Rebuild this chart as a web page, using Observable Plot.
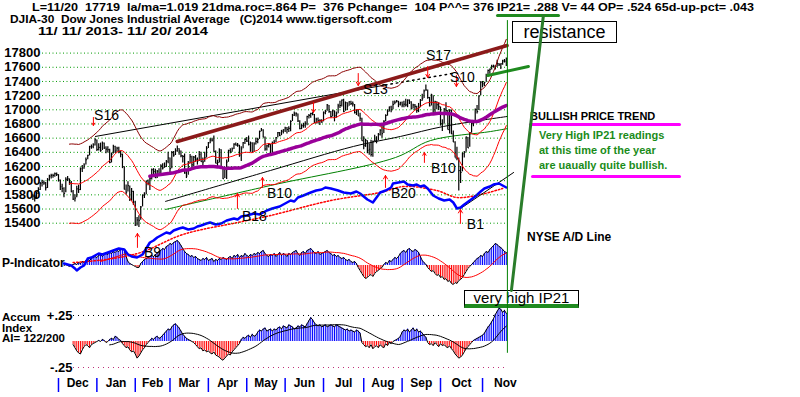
<!DOCTYPE html>
<html><head><meta charset="utf-8">
<script src="https://cdn.jsdelivr.net/npm/d3@7"></script>
<script src="https://cdn.jsdelivr.net/npm/@observablehq/plot@0.6"></script>
<style>
body{margin:0;background:#fff;}
#wrap{position:relative;width:800px;height:397px;overflow:hidden;font-family:"Liberation Sans",Arial,sans-serif;background:#fff;}
.t{position:absolute;white-space:pre;font-weight:bold;color:#000;font-size:12px;line-height:13px;}
.h{font-size:10.5px;line-height:11px;transform-origin:0 50%;}
.s{font-size:11.5px;line-height:10px;}
.g{color:#1a8c1a;font-size:11px;}
.bar{position:absolute;border-radius:2px;}
.box{position:absolute;box-sizing:border-box;background:#fff;border:1px solid #000;text-align:center;white-space:pre;}
.layer{position:absolute;left:0;top:0;}
</style></head><body>
<div id="wrap">
  <div class="t h" data-w="462" style="left:32px;top:2px">L=11/20  17719  la/ma=1.019 21dma.roc=.864 P=  376 Pchange=  104 P^^= 376</div>
  <div class="t h" data-w="257" style="left:497px;top:2px">IP21= .288 V= 44 OP= .524 65d-up-pct= .043</div>
  <div class="t h" data-w="382" style="left:10px;top:14px">DJIA-30  Dow Jones Industrial Average   (C)2014 www.tigersoft.com</div>
  <div class="t h" data-w="170" style="left:38px;top:26px">11/ 11/ 2013- 11/ 20/ 2014</div>
  <div class="bar" style="left:496px;top:14px;width:64px;height:3px;background:#1f8a1f"></div>
  <div class="box" style="left:512px;top:21px;width:105px;height:22px;font-size:18px;line-height:20px">resistance</div>
  <div class="t" style="left:530px;top:109.5px;font-size:11px">BULLISH PRICE TREND</div>
  <div class="bar" style="left:529px;top:122.5px;width:152px;height:3.5px;background:#ff00ff"></div>
  <div class="t g" style="left:539px;top:128.5px">Very High IP21 readings</div>
  <div class="t g" style="left:539px;top:143.5px">at this time of the year</div>
  <div class="t g" style="left:539px;top:158.5px">are uaually quite bullish.</div>
  <div class="bar" style="left:531px;top:174.5px;width:150px;height:3.5px;background:#ff00ff"></div>
  <div class="t" style="left:527px;top:230.5px">NYSE A/D Line</div>
  <div class="t" style="left:2px;top:256.5px">P-Indicator</div>
  <div class="box" style="left:464px;top:290px;width:115px;height:18px;font-size:15px;line-height:13px;border-bottom:4px solid #1f8a1f">very high IP21</div>
  <div class="t s" style="left:2px;top:312px">Accum</div>
  <div class="t s" style="left:2px;top:322.5px">Index</div>
  <div class="t s" style="left:2px;top:333px">AI= 122/200</div>
</div>
<script>
// ---- price data (trading days 11/11/2013 .. 11/20/2014) ----
const closes = [
15783,15751,15822,15876,15962,15976,15967,15900,16010,16065,16073,16073,16098,16086,
16008,15915,15889,15821,16020,16025,15973,15844,15740,15755,15884,15875,16168,16179,16221,16295,16358,16479,16479,16505,16577,
16441,16470,16425,16530,16462,16445,16437,16257,16374,16481,16418,16459,16414,16373,16198,15879,15838,15929,15739,15849,15699,
15373,15445,15441,15629,15795,15801,15994,15964,16027,16154,16130,16040,16133,16104,16208,16180,16199,16272,16322,
16169,16396,16361,16422,16453,16419,16351,16341,16109,16066,16248,16337,16223,16332,16303,16277,16368,16268,16264,16323,16458,
16533,16573,16572,16413,16246,16257,16437,16171,16027,16174,16263,16425,16409,16449,16515,16502,16501,16361,16448,16535,16581,
16559,16513,16531,16402,16518,16551,16583,16695,16715,16614,16447,16491,16511,16374,16533,16544,16607,16676,16633,16698,16717,
16743,16723,16738,16836,16924,16943,16945,16843,16734,16776,16781,16808,16906,16921,16947,16937,16819,16868,16846,16851,16827,
16957,16976,17068,16974,16906,16985,16915,16944,17055,17061,17138,16977,17100,17052,17113,17087,17083,16961,16983,16912,16881,16563,
16493,16569,16429,16443,16369,16554,16570,16561,16652,16713,16663,16839,16920,16979,17040,17001,17076,17107,17122,17079,17098,
17068,17079,17069,17137,17111,17014,17068,17049,16988,17031,17131,17157,17266,17280,17173,17056,17211,16946,17113,17071,17043,
16805,16801,17009,16992,16720,16995,16659,16544,16321,16316,16142,16117,16380,16400,16615,16462,16677,16805,16818,17006,16975,17195,17391,
17366,17384,17485,17555,17573,17613,17615,17612,17652,17635,17648,17688,17686,17719];
const highs = [
15800,15790,15840,15900,15975,16005,15995,15975,16030,16075,16090,16090,16110,16110,
16085,16010,15950,15900,16040,16060,16025,15990,15860,15800,15920,15935,16180,16215,16240,16320,16360,16485,16505,16520,16590,
16575,16520,16530,16545,16530,16480,16480,16445,16390,16500,16485,16470,16470,16420,16375,16195,15940,15985,15925,15890,15850,
15710,15480,15505,15635,15800,15830,15995,16010,16040,16165,16170,16160,16145,16170,16225,16240,16250,16285,16400,
16320,16410,16410,16450,16490,16450,16420,16355,16375,16150,16270,16370,16345,16340,16355,16320,16410,16400,16320,16400,16480,
16540,16590,16600,16630,16420,16290,16450,16435,16175,16185,16290,16430,16450,16460,16520,16530,16525,16500,16480,16540,16590,
16610,16630,16545,16535,16535,16600,16600,16700,16735,16720,16615,16500,16525,16510,16545,16570,16610,16680,16680,16710,16720,
16755,16750,16760,16845,16935,16970,16960,16940,16845,16790,16810,16830,16910,16935,16950,16960,16935,16880,16885,16860,16860,
16970,16990,17075,17060,16975,16995,16985,16970,17080,17120,17140,17150,17110,17100,17115,17120,17110,17075,17000,17000,16950,16880,
16620,16585,16565,16520,16570,16560,16640,16620,16665,16720,16775,16845,16930,17000,17040,17050,17120,17125,17130,17120,17105,
17110,17120,17150,17140,17140,17115,17080,17075,17050,17090,17145,17220,17280,17350,17280,17175,17220,17200,17120,17115,17100,
17040,16860,17020,17100,16990,17000,16995,16700,16550,16470,16320,16200,16390,16410,16615,16610,16680,16810,16830,17010,17060,17200,17395,
17400,17390,17500,17560,17575,17630,17630,17620,17700,17655,17650,17700,17710,17730];
const lows = [
15720,15700,15740,15810,15860,15910,15935,15855,15890,16000,16025,16035,16050,16060,
15980,15860,15830,15760,15830,15990,15935,15830,15720,15700,15760,15820,15860,16115,16160,16220,16295,16350,16445,16450,16490,
16410,16420,16400,16425,16440,16380,16390,16240,16250,16375,16385,16400,16380,16325,16170,15870,15800,15840,15705,15710,15650,
15355,15360,15340,15440,15630,15750,15800,15930,15860,16010,16070,16030,16030,16080,16100,16150,16175,16185,16240,
16100,16170,16330,16355,16400,16360,16325,16250,16090,16030,16075,16240,16150,16200,16260,16220,16270,16260,16200,16260,16320,
16455,16520,16545,16400,16240,16200,16250,16160,16015,16030,16015,16260,16380,16400,16440,16490,16470,16330,16270,16450,16510,
16540,16490,16400,16395,16400,16505,16520,16585,16690,16605,16415,16420,16460,16360,16375,16520,16540,16605,16625,16635,16660,
16680,16660,16680,16690,16835,16905,16900,16820,16720,16720,16740,16740,16775,16870,16880,16915,16805,16800,16800,16780,16810,
16830,16930,16980,16950,16880,16900,16830,16880,16945,17020,17040,16960,16980,16990,17050,17060,17040,16940,16920,16905,16830,16555,
16435,16470,16380,16360,16335,16330,16550,16520,16565,16630,16600,16665,16830,16910,16970,16960,17000,17070,17095,17030,17055,
17030,17030,17040,17030,17075,17000,17010,16990,16950,16960,17030,17120,17160,17260,17150,17040,17055,16940,16950,17000,16990,
16770,16695,16800,16930,16715,16660,16650,16540,16320,16280,15855,15960,16125,16320,16400,16455,16470,16670,16760,16820,16940,16990,17200,
17310,17330,17390,17480,17500,17560,17590,17560,17600,17610,17570,17630,17660,17610];

const yTicks = [15400,15600,15800,16000,16200,16400,16600,16800,17000,17200,17400,17600,17800];
const monthStarts = [14,35,56,75,96,117,138,159,181,202,223,246];
const monthEnd = 271;
const monthNames = ["Dec","Jan","Feb","Mar","Apr","May","Jun","Jul","Aug","Sep","Oct","Nov"];

// trend lines: [day index, price]
const trendBlack = [[34.2,16624],[192.9,17350]];
const trendBlackDotted = [[192.9,17350],[229.3,17512]];
const trendBrown = [[79,16553],[259.4,17907]];
const supportGreen = [[248.9,17484],[271.1,17611]];
const lowerBlack = [[72.5,15707],[130,16144],[175.4,16483],[201.1,16624],[224.6,16765],[259.6,16906]];
const lowerGreen = [[72.5,15593],[130,15932],[198.4,16327],[217.5,16566],[250.3,16693],[259.6,16735]];
const todayLine = [[259.6,18260],[259.6,13577]];
const callout = [[279.3,18330],[261.8,14452]];

// signals
const sigLabel = ["S16","S13","S17","S10","B9","B18","B10","B20","B10","B1"];
const sigIdx   = [40.3,187.4,221.9,235,65.4,121.2,134.9,202.7,224.6,242.1];
const sigPrice = [16920,17287,17766,17456,14988,15495,15820,15820,16172,15383];
const arrIdx  = [33.1,153.5,178,216,231.7,57.2,111.9,125.6,192.9,214.2,233.9];
const arrFrom = [16892,17103,17512,17610,17484,15058,15608,15904,15904,16257,15397];
const arrTo   = [16779,16962,17343,17455,17329,15256,15820,16045,16074,16398,15594];

// P-Indicator (starts at day 17)
const pStart = 17;
const pVals = [0,1,0,-1,0,1, 2,1,3,2,4,3, 5,6,5,7, 8,9,8,10,11,9,11,12,11, 13,12,14,13,15,14,16,17, 16,
 9,4,2,1,0,-1,-2,-2, 2,4,6,7,8,9,10,9,11,12, 14,15,17,16,19,20,22,21,23,24,25, 23,20,17,
 14,12,11,9,10,8,9,7, 6,5,7,6,8,5,6,7,4,6,5,7,6,8,7,6, 8,9,7,10,9,11,8,10,9,12,10,9,11,10,12,11,
 13,12,14,15,12,10,9,11, 10,12,9,11,13,10,12,11,9,12, 11,13,14,15,12,10,13,14,12,15, 16,17,15,13,12,14,11,12,13,14,
 15,13,12,10,11,9,10,8, 7,8,6,5,6,4,3,4,2, -2,-5,-8,-11,-13,-12,-10,-9,-11,-8,-6,-5,-3,-2,
 1,3,2,5,4,6,8,7,9, 12,14,15,13,16,17,15,14,16,15,13, 9,5,3,1,
 -2,-4,-6,-5,-8,-10,-9,-12, -11,-14,-13,-16,-15,-18,-19,-17, -18,-15,-14,-12,-9,-6,-3,
 -1,1,3,5,7, 8,10,9,12,14,13,16,18,20,22, 21,19,18,16,14,13];

// Accumulation Index in hundredths (starts at day 22)
const aiStart = 22;
const aiVals = [-3,-6,-9,-11,-12,-8,-5,-3,-4,-6,-3,-2,-1,0, 1,0,2,1,-1,0,2,3,2,5,4,2,1,
 -2,-4,-6,-5,-8,-10,-9,-12,-16,-14,-11,-8,-6,-3,-1, 1,3,2,4,5,3,4,6, 8,10,12,11,14,16,17,15,13,10,7, 5,3,2,1,0,-1,
 -3,-5,-7,-6,-9,-8,-10,-9,-11,-12,-10,-13, -14,-15,-17,-18,-16,-14,-12,-13,-10,-8,-6,-4,-2,
 2,4,3,5,6,4,7,5,6, 9,11,10,12,13,10,11,12,10, 12,11,13,14,12,15,14,13,16,15,14,12,13,15,14,16,15,14,17,
 20,23,21,18,16, 15,16,14,15,16,14,15,16,15,14,16,15,14, 13,12,11,12,10,11,10,9,11,10,8,
 -1,-3,-5,-4,-6,-3,-7,-5,-4,-6,-3,-5,-6,-2,-4,-1,-2,0, 1,2,3,5, 9,11,10,12,9,11,13,10,12,9,10,8,6,4,
 -1,-3,-2,-4,-1,-3,-5,-2,-4,-3,-5,-6,-4, -7,-9,-12,-14,-16,-15,-13,-10,-7,-5,-3, -1,1,2,3,4,5,6,
 8,11,14,16,19,22,26,29,32,31,28,30,27];
const aiTicks = [25,-25];
const aiTickLabels = ["+.25","-.25"];

// NYSE A/D line (arbitrary units)
const adIdx = [17,21,23,24,26,28,30,32,34,36,38,41,44,47,50,52,54,57,60,62,64,66,68,70,73,75,77,80,82,85,88,90,92,95,97,100,103,106,110,112,114,117,121,124,128,131,135,138,141,143,145,148,152,155,158,160,163,167,170,174,177,179,181,183,186,188,190,193,196,197,200,203,205,208,210,212,214,216,219,222,225,228,230,232,234,236,239,242,245,247,250,252,255,257,259];
const adVal = [7,5,2,0,3,5,12,13,15,17,16,18,20,22,21,16,14,13,16,22,28,30,33,35,38,37,40,42,43,41,42,44,45,47,48,46,47,50,52,51,54,55,57,56,60,62,64,67,70,69,73,75,78,80,81,83,82,80,78,77,79,77,74,71,68,73,78,80,83,87,88,89,86,85,86,84,85,82,75,72,70,71,68,62,63,66,70,74,79,82,84,86,87,85,83];
const adMaIdx = [22,40,59,82,112,130,163,190,203,221,232,245,257];
const adMaVal = [8,11,18,36,48,55,70,78,84,80,73,76,82];
const adTrend = [[234,62],[263,98]];

if (closes.length!==260||highs.length!==260||lows.length!==260) throw new Error("price len "+closes.length+" "+highs.length+" "+lows.length);
if (pVals.length!==243||aiVals.length!==238) throw new Error("ind len "+pVals.length+" "+aiVals.length);

// fit header lines to the widths they take in the reference
document.querySelectorAll("[data-w]").forEach(el => {
  const w = el.getBoundingClientRect().width;
  if (w > 0) el.style.transform = `scaleX(${(+el.dataset.w / w).toFixed(4)})`;
});

const W = 800, H = 397;
const font = "Liberation Sans, Arial, sans-serif";
const xs = {domain:[0,259], range:[32.4,505.8], axis:null};
const st = {background:"transparent", fontFamily:font, overflow:"visible"};
const days = closes.map((c,i)=>({i, c, h:highs[i], l:lows[i]}));
const xy = {x:d=>d[0], y:d=>d[1]};
const signals = sigLabel.map((s,k)=>({s, i:sigIdx[k], p:sigPrice[k]}));
const arrows = arrIdx.map((i,k)=>({i, a:arrFrom[k], b:arrTo[k]}));
const pData = pVals.map((v,k)=>({i:pStart+k, v}));
const aiData = aiVals.map((v,k)=>({i:aiStart+k, v}));
const adData = adIdx.map((i,k)=>({i, v:adVal[k]}));
const adMa = adMaIdx.map((i,k)=>({i, v:adMaVal[k]}));
const monthMid = monthStarts.map((m,k)=>(m + (k<monthStarts.length-1?monthStarts[k+1]:monthEnd))/2);
const win = (k, reduce) => ({k, anchor:"end", strict:true, ...(reduce ? {reduce} : {})});

const wrap = document.getElementById("wrap");
function add(svg){ svg.classList.add("layer"); svg.style.position="absolute"; svg.style.left="0px"; svg.style.top="0px"; wrap.appendChild(svg); }

// Accumulation Index panel + month axis
add(Plot.plot({
  width:W, height:H, marginLeft:73, marginRight:293, marginTop:315, marginBottom:H-378,
  x:xs, y:{domain:[-25,25], range:[367,315], axis:null}, style:st,
  marks:[
    Plot.ruleY([aiTicks[0]], {stroke:"#000", strokeDasharray:"1,4"}),
    Plot.ruleY([aiTicks[1]], {stroke:"#c0307a", strokeDasharray:"1,4"}),
    Plot.text(aiTicks, {y:d=>d, frameAnchor:"left", textAnchor:"end", dx:-1, text:(d,i)=>aiTickLabels[i], fontSize:13, fontWeight:"bold", fill:"#000"}),
    Plot.ruleX(aiData.filter(d=>d.v>0), {x:"i", y1:0, y2:"v", stroke:"#0000ff", strokeWidth:1}),
    Plot.ruleX(aiData.filter(d=>d.v<0), {x:"i", y1:0, y2:"v", stroke:"#ff0000", strokeWidth:1}),
    Plot.line(aiData, {x:"i", y:"v", stroke:"#000", strokeWidth:1}),
    Plot.line(aiData, Plot.windowY(win(21), {x:"i", y:"v", stroke:"#000", strokeWidth:1})),
    Plot.axisX({ticks:monthStarts, tickSize:14, tickFormat:()=>"", label:null, stroke:"#0000ff", strokeWidth:1.5}),
    Plot.text(monthMid, {x:d=>d, frameAnchor:"bottom", dy:8, text:(d,i)=>monthNames[i], fontWeight:"bold", fontSize:12, fill:"#000"})
  ]
}));

// P-Indicator panel
add(Plot.plot({
  width:W, height:H, margin:0, x:xs, y:{domain:[-25,25], range:[290,240], axis:null}, style:st,
  marks:[
    Plot.ruleX(pData.filter(d=>d.v>0), {x:"i", y1:0, y2:"v", stroke:"#0000ff", strokeWidth:1}),
    Plot.ruleX(pData.filter(d=>d.v<0), {x:"i", y1:0, y2:"v", stroke:"#ff0000", strokeWidth:1}),
    Plot.line(pData, {x:"i", y:"v", stroke:"#000", strokeWidth:1}),
    Plot.line(pData, Plot.windowY(win(21), {x:"i", y:"v", stroke:"#ff0000", strokeWidth:1}))
  ]
}));

// NYSE A/D line
add(Plot.plot({
  width:W, height:H, margin:0, x:xs, y:{domain:[0,100], range:[270,170], axis:null}, style:st,
  marks:[
    Plot.line(adMa, {x:"i", y:"v", stroke:"#ff0000", strokeDasharray:"1.5,2", curve:"catmull-rom"}),
    Plot.line(adTrend, {...xy, stroke:"#000", strokeWidth:1}),
    Plot.line(adData, {x:"i", y:"v", stroke:"#0000ff", strokeWidth:2.5})
  ]
}));

// Price panel
add(Plot.plot({
  width:W, height:H, marginLeft:42, marginRight:293, marginTop:52.6, marginBottom:H-222.7,
  x:xs, y:{domain:[15400,17800], range:[222.7,52.6], axis:null}, style:st,
  marks:[
    Plot.ruleY(yTicks, {stroke:"#009a00", strokeDasharray:"1,2.5"}),
    Plot.text(yTicks, {y:d=>d, frameAnchor:"left", textAnchor:"end", dx:-2, text:d=>String(d), fontSize:13, fontWeight:"bold", fill:"#000"}),
    Plot.line(lowerGreen, {...xy, stroke:"#008000", strokeWidth:1, curve:"catmull-rom"}),
    Plot.line(lowerBlack, {...xy, stroke:"#000", strokeWidth:1, curve:"catmull-rom"}),
    Plot.line(trendBlack, {...xy, stroke:"#000", strokeWidth:1}),
    Plot.line(trendBlackDotted, {...xy, stroke:"#000", strokeWidth:1.5, strokeDasharray:"1.5,4"}),
    Plot.ruleX(days, {x:"i", y1:"l", y2:"h", stroke:"#000", strokeWidth:1.2}),
    Plot.link(days, {x1:"i", x2:d=>d.i+0.6, y1:"c", y2:"c", stroke:"#000", strokeWidth:1}),
    Plot.line(days, Plot.windowY(win(21, v=>d3.mean(v)*1.035), {x:"i", y:"c", stroke:"#8b0000", strokeWidth:1})),
    Plot.line(days, Plot.windowY(win(21, v=>d3.mean(v)*0.965), {x:"i", y:"c", stroke:"#ff0000", strokeWidth:1})),
    Plot.line(days, Plot.windowY(win(21), {x:"i", y:"c", stroke:"#ff0000", strokeWidth:1})),
    Plot.line(days, Plot.windowY(win(65), {x:"i", y:"c", stroke:"#990099", strokeWidth:3.5})),
    Plot.line(trendBrown, {...xy, stroke:"#8b1a1a", strokeWidth:3.5}),
    Plot.line(supportGreen, {...xy, stroke:"#1f8a1f", strokeWidth:3}),
    Plot.arrow(arrows, {x1:"i", x2:"i", y1:"a", y2:"b", stroke:"#ff0000", strokeWidth:1, headLength:6}),
    Plot.text(signals, {x:"i", y:"p", text:"s", fontSize:14, fill:"#000"}),
    Plot.line(todayLine, {...xy, stroke:"#008000", strokeWidth:1}),
    Plot.line(callout, {...xy, stroke:"#2a7d2a", strokeWidth:3})
  ]
}));
</script>
</body></html>
